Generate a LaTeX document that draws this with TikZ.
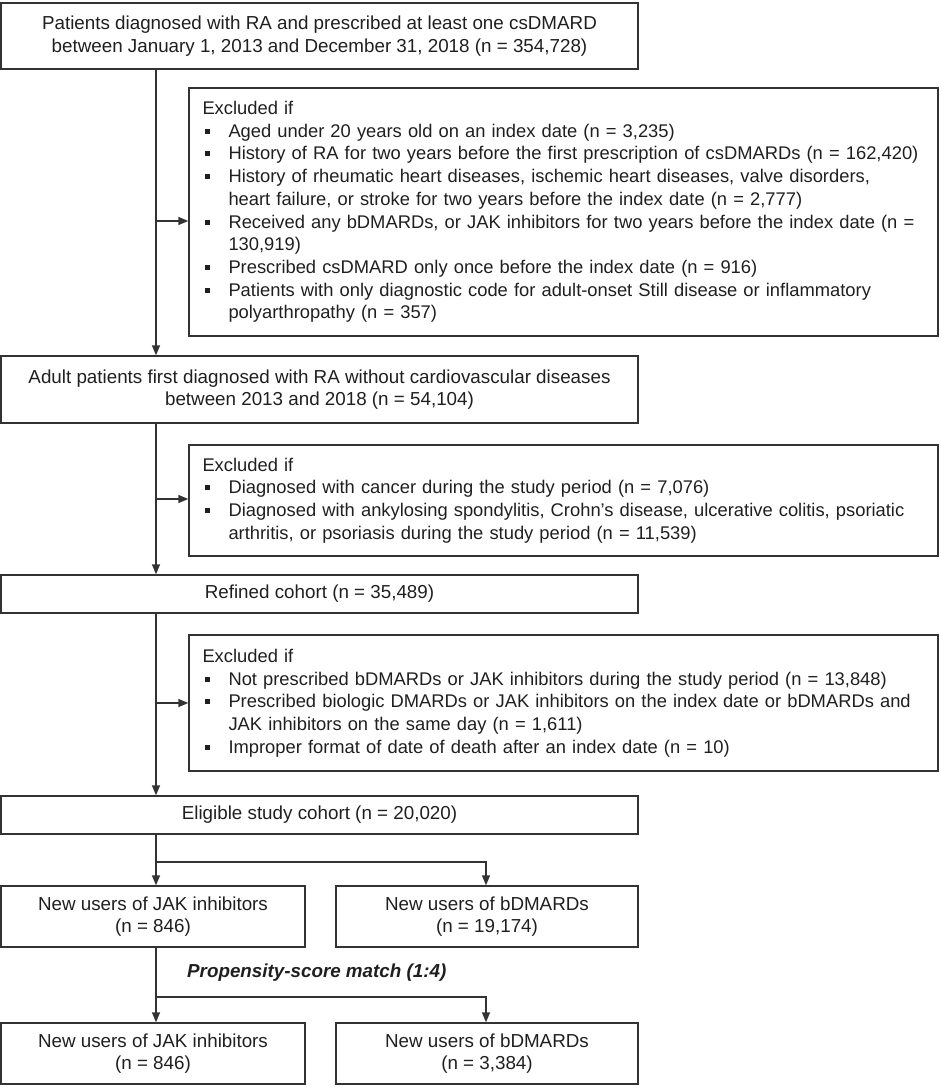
\documentclass[tikz,border=0pt]{standalone}
\usepackage{fontspec}
\setmainfont{Liberation Sans}
\usetikzlibrary{arrows.meta}
\definecolor{ln}{HTML}{333333}
\definecolor{tx}{HTML}{1F1F1F}
\newcommand\fs{\fontsize{18.8}{22.7}\selectfont}
\newcommand\fx{\fontsize{18.35}{22.7}\selectfont}
\newcommand\bul{\makebox[26pt][l]{\hspace{2pt}\raisebox{3.5pt}{\rule{5pt}{5pt}}}}
\newcommand\ind{\makebox[26pt]{}}
\begin{document}
\begin{tikzpicture}[x=1pt,y=-1pt,
  box/.style={draw=ln,line width=1.4pt,text=tx,font=\fs,align=center,inner sep=0pt},
  excl/.style={draw=ln,line width=1.4pt,text=tx,font=\fx,align=left,inner xsep=13.5pt,inner ysep=0pt,text width=722pt},
  arr/.style={draw=ln,line width=1.4pt,-{Triangle[length=10pt,width=8pt]}}]
\useasboundingbox (0,0) rectangle (941,1087);

% main boxes
\node[box,minimum width=637pt,minimum height=66pt] (b1) at (319.5,36)
  {Patients diagnosed with RA and prescribed at least one csDMARD\\between January 1, 2013 and December 31, 2018 (n = 354,728)};
\node[box,minimum width=637pt,minimum height=67pt] (b2) at (319.5,389.5)
  {Adult patients first diagnosed with RA without cardiovascular diseases\\between 2013 and 2018 (n = 54,104)};
\node[box,minimum width=637pt,minimum height=38pt] (b3) at (319.5,594)
  {Refined cohort (n = 35,489)};
\node[box,minimum width=637pt,minimum height=38pt] (b4) at (319.5,815)
  {Eligible study cohort (n = 20,020)};
\node[box,minimum width=304pt,minimum height=61pt] (j1) at (153,916.5)
  {New users of JAK inhibitors\\(n = 846)};
\node[box,minimum width=302pt,minimum height=61pt] (d1) at (487,916.5)
  {New users of bDMARDs\\(n = 19,174)};
\node[box,minimum width=304pt,minimum height=61pt] (j2) at (153,1053.5)
  {New users of JAK inhibitors\\(n = 846)};
\node[box,minimum width=302pt,minimum height=61pt] (d2) at (487,1053.5)
  {New users of bDMARDs\\(n = 3,384)};

% exclusion boxes
\node[excl,minimum height=248pt] (e1) at (563.5,212) {Excluded if\\
\bul Aged under 20 years old on an index date (n = 3,235)\\
\bul History of RA for two years before the first prescription of csDMARDs (n = 162,420)\\
\bul History of rheumatic heart diseases, ischemic heart diseases, valve disorders,\\
\ind heart failure, or stroke for two years before the index date (n = 2,777)\\
\bul Received any bDMARDs, or JAK inhibitors for two years before the index date (n =\\
\ind 130,919)\\
\bul Prescribed csDMARD only once before the index date (n = 916)\\
\bul Patients with only diagnostic code for adult-onset Still disease or inflammatory\\
\ind polyarthropathy (n = 357)};

\node[excl,minimum height=111pt] (e2) at (563.5,500.5) {Excluded if\\
\bul Diagnosed with cancer during the study period (n = 7,076)\\
\bul Diagnosed with ankylosing spondylitis, Crohn's disease, ulcerative colitis, psoriatic\\
\ind arthritis, or psoriasis during the study period (n = 11,539)};

\node[excl,minimum height=136pt] (e3) at (563.5,703) {Excluded if\\
\bul Not prescribed bDMARDs or JAK inhibitors during the study period (n = 13,848)\\
\bul Prescribed biologic DMARDs or JAK inhibitors on the index date or bDMARDs and\\
\ind JAK inhibitors on the same day (n = 1,611)\\
\bul Improper format of date of death after an index date (n = 10)};

\node[text=tx,font=\fs\bfseries\itshape,anchor=west,inner sep=0pt] (ps) at (187,973)
  {Propensity-score match (1:4)};

% connector coordinates
\coordinate (t1) at (156,221);
\coordinate (t2) at (156,499);
\coordinate (t3) at (156,703);
\coordinate (s1) at (156,862);
\coordinate (s2) at (156,997);
\coordinate (r1) at (486,862);

\draw[arr] (b1.south -| t1) -- (b2.north -| t1);
\draw[arr] (t1) -- (t1 -| e1.west);
\draw[arr] (b2.south -| t2) -- (b3.north -| t2);
\draw[arr] (t2) -- (t2 -| e2.west);
\draw[arr] (b3.south -| t3) -- (b4.north -| t3);
\draw[arr] (t3) -- (t3 -| e3.west);

\draw[arr] (b4.south -| s1) -- (j1.north -| s1);
\draw[arr] (s1) -| (d1.north -| r1);
\draw[arr] (j1.south -| s2) -- (j2.north -| s2);
\draw[arr] (s2) -| (d2.north -| r1);
\end{tikzpicture}
\end{document}
